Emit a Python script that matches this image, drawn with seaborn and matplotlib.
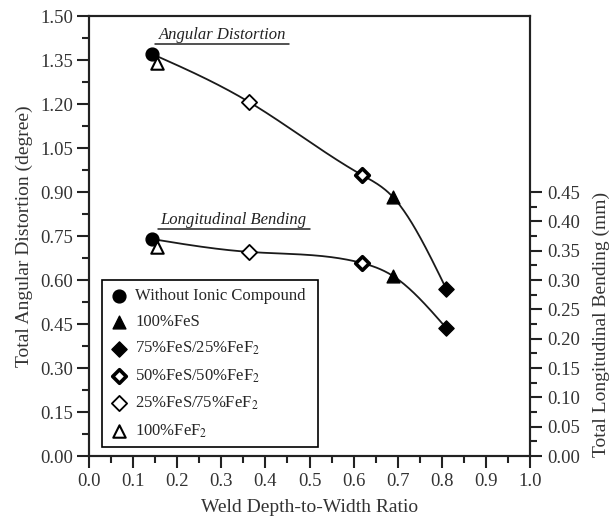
import numpy as np
import pandas as pd
import matplotlib
matplotlib.use("Agg")
import matplotlib.pyplot as plt
from matplotlib.lines import Line2D
from matplotlib.ticker import MultipleLocator, FixedLocator, FormatStrFormatter
import seaborn as sns

# ---------------- data ----------------
compounds = ["Without Ionic Compound", "100%FeS", "75%FeS/25%FeF$_2$",
             "50%FeS/50%FeF$_2$", "25%FeS/75%FeF$_2$", "100%FeF$_2$"]
ratio = [0.143, 0.689, 0.810, 0.619, 0.363, 0.154]          # weld depth-to-width ratio
angular = [1.371, 0.883, 0.569, 0.958, 1.207, 1.340]         # degree (left axis)
bending = [0.370, 0.307, 0.218, 0.329, 0.348, 0.356]         # mm (right axis)
# compounds used for the smooth fitted curves (100%FeF2 sits on top of the first point)
curve_members = compounds[:5]

df = pd.DataFrame({"compound": compounds, "ratio": ratio,
                   "angular": angular, "bending": bending})

# marker styles (style only)
styles = {
    compounds[0]: dict(marker="o", facecolor="black", lw=1.0, s=85),
    compounds[1]: dict(marker="^", facecolor="black", lw=1.0, s=85),
    compounds[2]: dict(marker="D", facecolor="black", lw=1.0, s=60),
    compounds[3]: dict(marker="D", facecolor="white", lw=2.6, s=48),
    compounds[4]: dict(marker="D", facecolor="white", lw=1.3, s=60),
    compounds[5]: dict(marker="^", facecolor="white", lw=1.5, s=80),
}


def natural_spline(xk, yk, xs):
    xk = np.asarray(xk, float); yk = np.asarray(yk, float)
    n = len(xk)
    h = np.diff(xk)
    A = np.zeros((n, n)); r = np.zeros(n)
    A[0, 0] = A[-1, -1] = 1.0
    for i in range(1, n - 1):
        A[i, i - 1] = h[i - 1]
        A[i, i] = 2 * (h[i - 1] + h[i])
        A[i, i + 1] = h[i]
        r[i] = 3 * ((yk[i + 1] - yk[i]) / h[i] - (yk[i] - yk[i - 1]) / h[i - 1])
    c = np.linalg.solve(A, r)
    b = np.zeros(n - 1); d = np.zeros(n - 1)
    for i in range(n - 1):
        b[i] = (yk[i + 1] - yk[i]) / h[i] - h[i] * (2 * c[i] + c[i + 1]) / 3
        d[i] = (c[i + 1] - c[i]) / (3 * h[i])
    idx = np.clip(np.searchsorted(xk, xs) - 1, 0, n - 2)
    dx = xs - xk[idx]
    return yk[idx] + b[idx] * dx + c[idx] * dx ** 2 + d[idx] * dx ** 3


sns.set_style("ticks")
plt.rcParams["font.family"] = ["Liberation Serif", "DejaVu Serif"]
plt.rcParams["mathtext.fontset"] = "stix"
plt.rcParams["axes.linewidth"] = 1.5

fig = plt.figure(figsize=(6.13, 5.20), dpi=100)
ax = fig.add_axes([0.145, 0.123, 0.720, 0.846])
ax2 = ax.twinx()
ax2.set_position(ax.get_position())

# smooth curves
cd = df[df["compound"].isin(curve_members)].sort_values("ratio")
xs = np.linspace(cd["ratio"].min(), cd["ratio"].max(), 300)
curve_a = pd.DataFrame({"x": xs, "y": natural_spline(cd["ratio"], cd["angular"], xs)})
curve_b = pd.DataFrame({"x": xs, "y": natural_spline(cd["ratio"], cd["bending"], xs)})
sns.lineplot(data=curve_a, x="x", y="y", ax=ax, color="#1a1a1a", lw=1.3, zorder=2)
sns.lineplot(data=curve_b, x="x", y="y", ax=ax2, color="#1a1a1a", lw=1.3, zorder=2)

# markers
for comp in compounds:
    st = styles[comp]
    sub = df[df["compound"] == comp]
    sns.scatterplot(data=sub, x="ratio", y="angular", ax=ax, marker=st["marker"],
                    s=st["s"], facecolor=st["facecolor"], edgecolor="black",
                    linewidth=st["lw"], zorder=3, label=comp)
    sns.scatterplot(data=sub, x="ratio", y="bending", ax=ax2, marker=st["marker"],
                    s=st["s"], facecolor=st["facecolor"], edgecolor="black",
                    linewidth=st["lw"], zorder=3, legend=False)

# axes limits / ticks
ax.set_xlim(0, 1.0)
ax.set_ylim(0, 1.5)
ax2.set_ylim(0, 0.75)
ax.xaxis.set_major_locator(MultipleLocator(0.1))
ax.xaxis.set_minor_locator(MultipleLocator(0.05))
ax.yaxis.set_major_locator(MultipleLocator(0.15))
ax.yaxis.set_minor_locator(MultipleLocator(0.075))
ax.xaxis.set_major_formatter(FormatStrFormatter("%.1f"))
ax.yaxis.set_major_formatter(FormatStrFormatter("%.2f"))
ax2.yaxis.set_major_locator(FixedLocator(np.round(np.arange(0, 0.451, 0.05), 2)))
ax2.yaxis.set_minor_locator(FixedLocator(np.round(np.arange(0.025, 0.43, 0.05), 3)))
ax2.yaxis.set_major_formatter(FormatStrFormatter("%.2f"))

for a in (ax, ax2):
    for sp in a.spines.values():
        sp.set_visible(True)
        sp.set_linewidth(1.5)
        sp.set_color("#222222")
ax.tick_params(axis="both", which="major", direction="out", length=8.5, width=1.5,
               labelsize=13.5, colors="#222222", labelcolor="#333333", pad=3)
ax.tick_params(axis="both", which="minor", direction="out", length=5, width=1.5,
               colors="#222222")
ax.tick_params(axis="x", pad=4)
ax.tick_params(top=False, right=False, which="both")
ax2.tick_params(axis="y", which="major", direction="out", length=8.5, width=1.5,
                labelsize=13.5, colors="#222222", labelcolor="#333333", pad=4)
ax2.tick_params(axis="y", which="minor", direction="out", length=5, width=1.5,
                colors="#222222")

ax.set_xlabel("Weld Depth-to-Width Ratio", fontsize=14, color="#333333", labelpad=6)
ax.set_ylabel("Total Angular Distortion (degree)", fontsize=14, color="#333333", labelpad=5)
ax2.set_ylabel("Total Longitudinal Bending (mm)", fontsize=14, color="#333333")
ax2.yaxis.set_label_coords(1.142, 0.30)

# annotations
t1 = ax.text(0.302, 1.435, "Angular Distortion", style="italic", fontsize=12,
             ha="center", va="center", color="#222222")
t2 = ax.text(0.328, 0.805, "Longitudinal Bending", style="italic", fontsize=12,
             ha="center", va="center", color="#222222")

# legend
leg = ax.legend(loc="lower left", bbox_to_anchor=(0.0295, 0.0205, 0.49, 0.0),
                mode="expand", borderaxespad=0,
                fancybox=False, frameon=True, fontsize=12, handletextpad=0.35,
                labelspacing=0.6, handlelength=1.2, borderpad=0.45,
                edgecolor="black", framealpha=1)
leg.get_frame().set_linewidth(1.2)
leg.set_zorder(5)

# underline the annotations
fig.canvas.draw()
inv = fig.transFigure.inverted()
for t in (t1, t2):
    bb = t.get_window_extent()
    (x0, y0), (x1, _) = inv.transform([(bb.x0 - 3, bb.y0 - 1), (bb.x1 + 3, bb.y0 - 1)])
    fig.add_artist(Line2D([x0, x1], [y0, y0], transform=fig.transFigure,
                          color="#222222", lw=1.1))

fig.savefig("out.png", dpi=100)
